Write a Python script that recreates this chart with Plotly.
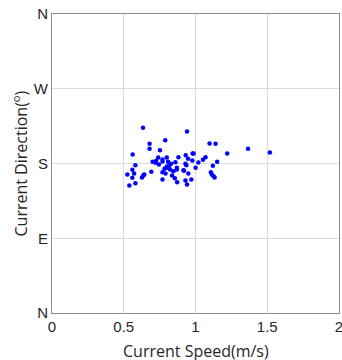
import plotly.graph_objects as go

speed = [0.634, 0.941, 0.680, 0.680, 0.789, 1.098, 1.140, 1.366, 1.518, 0.562,
         0.752, 0.932, 0.980, 0.987, 0.948, 1.070, 1.052, 1.221, 1.151, 0.740,
         0.726, 0.800, 0.770, 0.701, 0.722, 0.745, 0.770, 0.809, 0.830, 0.860,
         0.881, 0.978, 1.020, 0.930, 0.581, 0.560, 0.525, 0.572, 0.560, 0.581,
         0.539, 0.627, 0.636, 0.643, 0.692, 0.770, 0.770, 0.791, 0.805, 0.814,
         0.823, 0.846, 0.870, 0.870, 0.837, 0.856, 0.872, 0.916, 0.920, 0.950,
         0.936, 1.001, 0.930, 0.941, 0.971, 1.121, 1.107, 1.114, 1.126, 1.133,
         0.800, 0.784]
direction = [223.0, 218.6, 203.7, 197.7, 208.1, 204.1, 203.7, 197.7, 193.3, 190.8,
             196.1, 190.0, 192.0, 192.0, 185.6, 187.6, 184.4, 192.0, 182.0, 187.2,
             183.2, 187.2, 184.8, 182.0, 180.8, 178.8, 182.4, 182.0, 179.6, 181.6,
             187.6, 183.6, 181.2, 179.6, 178.0, 172.4, 166.7, 168.0, 162.7, 156.3,
             153.5, 163.1, 165.5, 166.7, 170.0, 169.6, 160.7, 168.0, 174.8, 176.8,
             172.8, 170.8, 174.8, 172.8, 165.5, 162.3, 157.5, 172.0, 171.2, 168.0,
             178.0, 174.8, 159.5, 154.7, 160.7, 177.2, 169.6, 166.7, 164.7, 163.1,
             176.4, 173.6]

x_ticks = [0, 0.5, 1, 1.5, 2]
x_tick_text = ["0", "0.5", "1", "1.5", "2"]
y_ticks = [0, 90, 180, 270, 360]
y_tick_text = ["N", "E", "S", "W", "N"]
x_title = "Current Speed(m/s)"
y_title = "Current Direction(<sup>o</sup>)"

fig = go.Figure(go.Scatter(
    x=speed, y=direction, mode="markers",
    marker=dict(color="#0000FF", size=4.5, line=dict(width=0)),
    showlegend=False,
))

axis_common = dict(
    showgrid=True, gridcolor="#DADADA", gridwidth=1,
    showline=True, linecolor="#8C8C8C", linewidth=1, mirror=True,
    zeroline=False, ticks="", automargin=False, ticklabeloverflow="allow",
    tickfont=dict(family="Liberation Sans, Arial", size=15, color="#262626"),
)

fig.update_xaxes(range=[0, 2], tickvals=x_ticks, ticktext=x_tick_text, **axis_common)
fig.update_yaxes(range=[0, 360], tickvals=y_ticks, ticktext=y_tick_text, **axis_common)

title_font = dict(family="Open Sans", size=16, color="#262626")
fig.add_annotation(text=x_title, xref="paper", yref="paper", x=0.5, y=0,
                   yshift=-38, yanchor="middle", xanchor="center",
                   showarrow=False, font=title_font)
fig.add_annotation(text=y_title, xref="paper", yref="paper", x=0, y=0.5,
                   xshift=-32, xanchor="center", yanchor="middle", textangle=-90,
                   showarrow=False, font=title_font)

fig.update_layout(
    width=342, height=360,
    margin=dict(l=52, r=3, t=14, b=47),
    paper_bgcolor="white", plot_bgcolor="white",
)

fig.write_html("out.html", config={"displayModeBar": False},
               post_script="document.body.style.margin='0';document.body.style.overflow='hidden';")
